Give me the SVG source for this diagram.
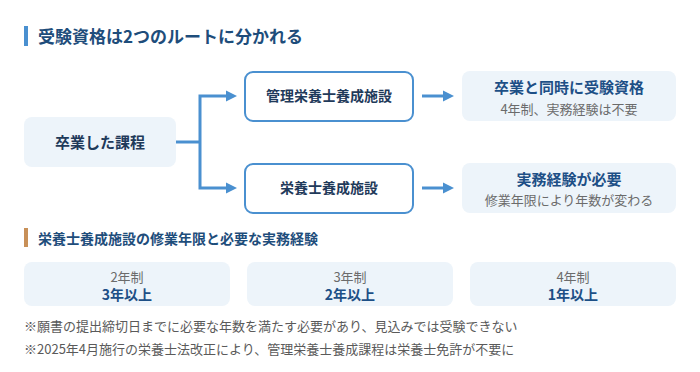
<svg xmlns="http://www.w3.org/2000/svg" width="700" height="372" viewBox="0 0 700 372">
<style>
text{font-family:"Noto Sans CJK JP","Noto Sans",sans-serif;}
.h1{font-size:17px;font-weight:700;fill:#1e4d7b;}
.h2{font-size:14px;font-weight:700;fill:#1e4d7b;}
.nt{font-size:15px;font-weight:700;fill:#1f3a5a;text-anchor:middle;}
.nt14{font-size:14px;font-weight:700;fill:#1f3a5a;text-anchor:middle;}
.rt{font-size:15px;font-weight:700;fill:#1d4f86;text-anchor:middle;}
.rs{font-size:13px;fill:#6b6b6b;text-anchor:middle;}
.cs{font-size:13px;fill:#6b6b6b;text-anchor:middle;}
.cb{font-size:14px;font-weight:700;fill:#1d4f86;text-anchor:middle;}
.note{font-size:13px;fill:#5a5a5a;}
.soft{fill:#edf4fa;}
.outl{fill:#ffffff;stroke:#4a90d0;stroke-width:2;}
.ln{fill:none;stroke:#4a90d0;stroke-width:3;}
.ah{fill:#4a90d0;}
</style>
<rect width="700" height="372" fill="#ffffff"/>
<g id="title">
<rect x="24" y="26" width="4" height="20" fill="#4a90d0"/>
<text class="h1" x="38" y="42.5">受験資格は2つのルートに分かれる</text>
</g>
<g id="connectors">
<path class="ln" d="M176,142 H200"/>
<path class="ln" d="M228,96 H200 V188 H228"/>
<polygon class="ah" points="226,90.5 237,96 226,101.5"/>
<polygon class="ah" points="226,182.5 237,188 226,193.5"/>
<path class="ln" d="M422,96 H445"/>
<polygon class="ah" points="443,90.5 454,96 443,101.5"/>
<path class="ln" d="M422,188 H445"/>
<polygon class="ah" points="443,182.5 454,188 443,193.5"/>
</g>
<g id="node-graduation">
<rect class="soft" x="24" y="117" width="152" height="50" rx="8"/>
<text class="nt" x="100" y="147.5">卒業した課程</text>
</g>
<g id="node-kanri">
<rect class="outl" x="245" y="72" width="168" height="49" rx="8"/>
<text class="nt14" x="329" y="101">管理栄養士養成施設</text>
</g>
<g id="node-eiyoshi">
<rect class="outl" x="245" y="164" width="168" height="49" rx="8"/>
<text class="nt14" x="329" y="193">栄養士養成施設</text>
</g>
<g id="node-result1">
<rect class="soft" x="462" y="71" width="214" height="50" rx="8"/>
<text class="rt" x="569" y="92.5">卒業と同時に受験資格</text>
<text class="rs" x="569" y="114">4年制、実務経験は不要</text>
</g>
<g id="node-result2">
<rect class="soft" x="462" y="163" width="214" height="50" rx="8"/>
<text class="rt" x="569" y="184.5">実務経験が必要</text>
<text class="rs" x="569" y="205">修業年限により年数が変わる</text>
</g>
<g id="section2">
<rect x="24" y="228" width="4" height="19" fill="#c89058"/>
<text class="h2" x="38" y="244">栄養士養成施設の修業年限と必要な実務経験</text>
</g>
<g id="card-2y">
<rect class="soft" x="24" y="262" width="206" height="44" rx="8"/>
<text class="cs" x="127" y="281.5">2年制</text>
<text class="cb" x="127" y="300">3年以上</text>
</g>
<g id="card-3y">
<rect class="soft" x="247" y="262" width="206" height="44" rx="8"/>
<text class="cs" x="350" y="281.5">3年制</text>
<text class="cb" x="350" y="300">2年以上</text>
</g>
<g id="card-4y">
<rect class="soft" x="470" y="262" width="206" height="44" rx="8"/>
<text class="cs" x="573" y="281.5">4年制</text>
<text class="cb" x="573" y="300">1年以上</text>
</g>
<g id="notes">
<text class="note" x="24" y="331">※願書の提出締切日までに必要な年数を満たす必要があり、見込みでは受験できない</text>
<text class="note" x="24" y="354">※2025年4月施行の栄養士法改正により、管理栄養士養成課程は栄養士免許が不要に</text>
</g>
</svg>
